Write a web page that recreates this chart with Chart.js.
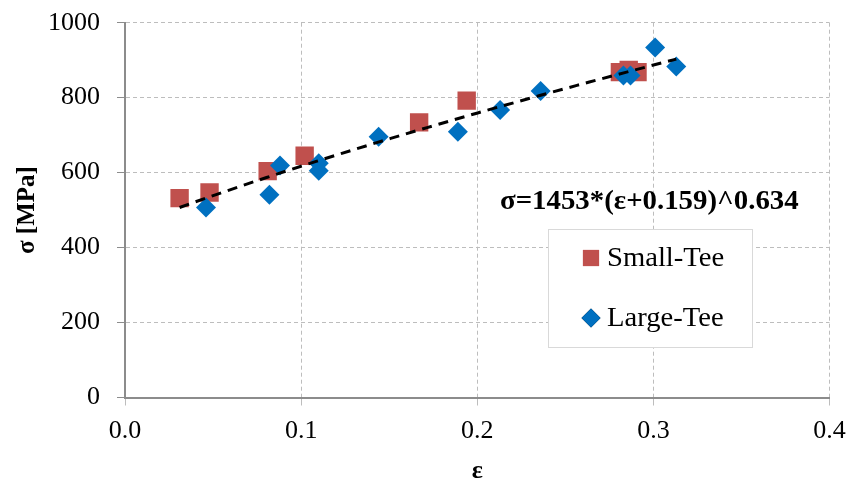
<!DOCTYPE html>
<html>
<head>
<meta charset="utf-8">
<script src="https://cdn.jsdelivr.net/npm/chart.js@4.4.1/dist/chart.umd.min.js"></script>
<style>
  html, body { margin: 0; padding: 0; background: #fff; }
  #wrap { width: 861px; height: 480px; }
</style>
</head>
<body>
<div id="wrap"><canvas id="chart"></canvas></div>
<script>
// measured strain / true stress for both specimen types
var smallStrain = [0.031, 0.048, 0.081, 0.102, 0.167, 0.194, 0.281, 0.286, 0.291];
var smallStress = [532, 547, 604, 645, 734, 792, 868, 874, 868];
var largeStrain = [0.046, 0.082, 0.088, 0.110, 0.110, 0.144, 0.189, 0.213, 0.236, 0.283, 0.287, 0.301, 0.313];
var largeStress = [507, 541, 619, 625, 605, 696, 709, 767, 818, 859, 859, 934, 883];

// power-law fit: sigma = K * (eps + e0)^n
var fitK = 1453, fitE0 = 0.159, fitN = 0.634;
var fitFrom = 0.031, fitTo = 0.313;

var serif = "'Liberation Serif', 'Times New Roman', serif";
var gridGray = '#bdbdbd';
var axisGray = '#8c8c8c';

function toPoints(xs, ys) {
    return xs.map(function (x, i) { return { x: x, y: ys[i] }; });
}

// sample the fitted curve between first and last strain
var fitPoints = [];
for (var i = 0; i <= 40; i++) {
    var e = fitFrom + (fitTo - fitFrom) * i / 40;
    fitPoints.push({ x: e, y: fitK * Math.pow(e + fitE0, fitN) });
}
var fitLabel = 'σ=' + fitK + '*(ε+' + fitE0 + ')^' + fitN;

// text a little wider than the plain font
function wideText(ctx, str, x, y, sx) {
    ctx.save();
    ctx.translate(x, y);
    ctx.scale(sx, 1);
    ctx.fillText(str, 0, 0);
    ctx.restore();
}

// legend box + equation text drawn over the plot
var overlay = {
    id: 'overlay',
    afterDraw: function (chart) {
        var ctx = chart.ctx;
        ctx.save();

        ctx.font = 'bold 27px ' + serif;
        ctx.fillStyle = '#000';
        ctx.textAlign = 'left';
        ctx.textBaseline = 'middle';
        wideText(ctx, fitLabel, 500, 202, 1.068);

        var bx = 548, by = 229, bw = 204, bh = 118;
        ctx.fillStyle = '#fff';
        ctx.fillRect(bx, by, bw, bh);
        ctx.strokeStyle = '#d9d9d9';
        ctx.lineWidth = 1;
        ctx.strokeRect(bx + 0.5, by + 0.5, bw, bh);

        var rows = [chart.data.datasets[0], chart.data.datasets[1]];
        rows.forEach(function (ds, k) {
            var cy = 258 + k * 60;
            Chart.helpers.drawPoint(ctx, {
                pointStyle: ds.pointStyle,
                radius: k === 0 ? 11.5 : 9.5,
                borderWidth: 0
            }, 591, cy);
            ctx.fillStyle = ds.backgroundColor;
            ctx.fill();
            ctx.fillStyle = '#000';
            ctx.font = '27px ' + serif;
            ctx.textBaseline = 'middle';
            wideText(ctx, ds.label, 607, cy + 1, 1.06);
        });
        ctx.restore();
    }
};

var ctx = document.getElementById('chart').getContext('2d');
var chart = new Chart(ctx, {
    type: 'scatter',
    data: {
        datasets: [{
            label: 'Small-Tee',
            data: toPoints(smallStrain, smallStress),
            pointStyle: 'rect',
            pointRadius: 13,
            pointHoverRadius: 13,
            backgroundColor: '#C0504D',
            borderWidth: 0,
            order: 3
        }, {
            label: 'Large-Tee',
            data: toPoints(largeStrain, largeStress),
            pointStyle: 'rectRot',
            pointRadius: 10,
            pointHoverRadius: 10,
            backgroundColor: '#0070C0',
            borderWidth: 0,
            order: 2
        }, {
            label: 'fit',
            data: fitPoints,
            showLine: true,
            pointRadius: 0,
            borderColor: '#000',
            borderWidth: 3,
            borderDash: [10, 7],
            fill: false,
            order: 1
        }]
    },
    plugins: [overlay],
    options: {
        responsive: true,
        maintainAspectRatio: false,
        animation: false,
        layout: { padding: { top: 22.7, right: 31.5, left: 0, bottom: 0 } },
        plugins: {
            legend: { display: false },
            tooltip: { enabled: false }
        },
        scales: {
            x: {
                type: 'linear',
                min: 0,
                max: 0.4,
                afterFit: function (s) { s.height = 82.5; },
                ticks: {
                    stepSize: 0.1,
                    color: '#000',
                    font: { family: serif, size: 26 },
                    padding: 10,
                    callback: function (v) { return v.toFixed(1); }
                },
                grid: {
                    color: gridGray,
                    lineWidth: 1,
                    tickLength: 8,
                    tickColor: gridGray,
                    tickBorderDash: []
                },
                border: { display: true, color: axisGray, width: 2, dash: [4, 3] },
                title: {
                    display: true,
                    text: 'ε',
                    color: '#000',
                    font: { family: serif, size: 26, weight: 'bold', lineHeight: 1 },
                    padding: { top: 0, bottom: -4 }
                }
            },
            y: {
                min: 0,
                max: 1000,
                afterFit: function (s) { s.width = 125; s.paddingTop = 0; s.paddingBottom = 0; },
                ticks: {
                    stepSize: 200,
                    color: '#000',
                    font: { family: serif, size: 26, lineHeight: 0.6 },
                    padding: 17,
                    callback: function (v) { return String(v); }
                },
                grid: {
                    color: gridGray,
                    lineWidth: 1,
                    tickLength: 8,
                    tickColor: axisGray,
                    tickBorderDash: []
                },
                border: { display: true, color: axisGray, width: 2, dash: [4, 3] },
                title: {
                    display: true,
                    text: 'σ [MPa]',
                    color: '#000',
                    font: { family: serif, size: 25, weight: 'bold', lineHeight: 1 },
                    padding: { top: 15, bottom: 0 }
                }
            }
        }
    }
});
</script>
</body>
</html>
